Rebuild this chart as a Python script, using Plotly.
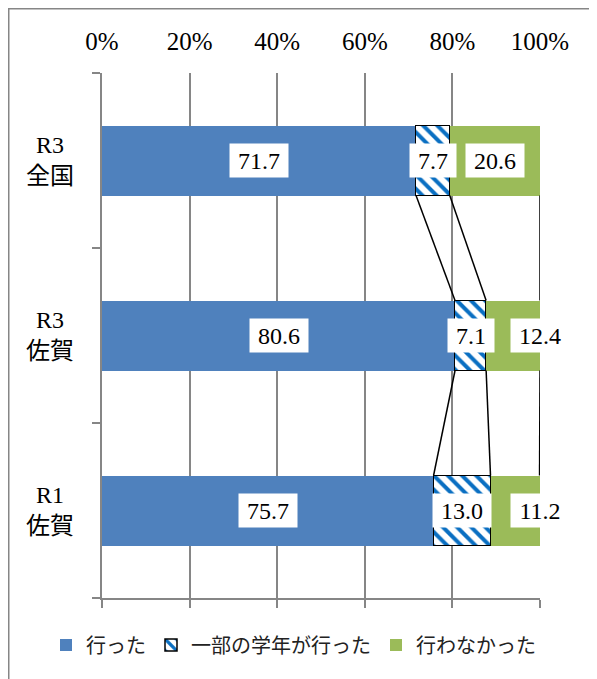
import plotly.graph_objects as go

# ---- data ----
categories = ["R1<br>佐賀", "R3<br>佐賀", "R3<br>全国"]   # bottom -> top
series_names = ["行った", "一部の学年が行った", "行わなかった"]
did = [75.7, 80.6, 71.7]
partial = [13.0, 7.1, 7.7]
did_not = [11.2, 12.4, 20.6]
x_tick_vals = [0, 20, 40, 60, 80, 100]
x_tick_text = ["0%", "20%", "40%", "60%", "80%", "100%"]
# where the value label of the last segment sits ("mid" = centre of segment, "end" = end of segment)
did_not_label_pos = ["end", "end", "mid"]

series_values = [did, partial, did_not]
y_pos = list(range(len(categories)))

BLUE = "#4F81BD"
GREEN = "#9BBB59"
STRIPE = "#0A6FC2"
GRID = "#868686"
SERIF = "Liberation Serif, Noto Sans CJK JP, serif"
JP = "Noto Sans CJK JP, sans-serif"
BAR_W = 0.4
X_MAX = 100

fig = go.Figure()

fig.add_trace(go.Bar(
    name=series_names[0], y=y_pos, x=did, orientation="h", width=BAR_W,
    marker=dict(color=BLUE, line=dict(width=0)), hoverinfo="skip"))
fig.add_trace(go.Bar(
    name=series_names[1], y=y_pos, x=partial, orientation="h", width=BAR_W,
    marker=dict(color="white", line=dict(color="black", width=1.5),
                pattern=dict(shape="\\", fgcolor=STRIPE, bgcolor="white",
                             size=10, solidity=0.4, fillmode="replace")),
    hoverinfo="skip"))
fig.add_trace(go.Bar(
    name=series_names[2], y=y_pos, x=did_not, orientation="h", width=BAR_W,
    marker=dict(color=GREEN, line=dict(width=0)), hoverinfo="skip"))

# cumulative ends of each series
cum = []
run = [0.0] * len(categories)
for vals in series_values:
    run = [r + v for r, v in zip(run, vals)]
    cum.append(list(run))

# series connector lines between adjacent bars
for s in range(len(series_values)):
    xs, ys = [], []
    for i in range(len(categories) - 1, 0, -1):
        xs += [min(cum[s][i], X_MAX), min(cum[s][i - 1], X_MAX), None]
        ys += [y_pos[i] - BAR_W / 2, y_pos[i - 1] + BAR_W / 2, None]
    fig.add_trace(go.Scatter(x=xs, y=ys, mode="lines", line=dict(color="black", width=1.5),
                             showlegend=False, hoverinfo="skip", cliponaxis=False))

# dummy trace for the top axis
fig.add_trace(go.Scatter(x=[0, X_MAX], y=[None, None], xaxis="x2", mode="markers",
                         showlegend=False, hoverinfo="skip"))

annotations = []


def label_width(txt):
    return sum(6 if c == "." else 12 for c in txt) + 14


for s, vals in enumerate(series_values):
    for i, v in enumerate(vals):
        start = cum[s][i] - v
        if s == 2 and did_not_label_pos[i] == "end":
            xc = min(cum[s][i], X_MAX)
        else:
            xc = start + v / 2
        txt = f"{v:.1f}"
        annotations.append(dict(
            x=xc, y=y_pos[i], xref="x", yref="y", text=txt, showarrow=False,
            font=dict(family=SERIF, size=24, color="black"),
            bgcolor="white", borderpad=1, width=label_width(txt), height=31,
            xanchor="center", yanchor="middle"))

W, H = 589, 671
L, T = 94, 65
pw, ph = 532 - L, 590 - T
R, B = W - L - pw, H - T - ph

for i, c in enumerate(categories):
    annotations.append(dict(
        x=(42 - L) / pw, y=y_pos[i], xref="paper", yref="y", text=c, showarrow=False,
        font=dict(family=SERIF, size=24, color="black"), align="center",
        xanchor="center", yanchor="middle"))

fig.update_layout(
    width=W, height=H,
    margin=dict(l=L, r=R, t=T, b=B),
    paper_bgcolor="white", plot_bgcolor="white",
    barmode="stack", bargap=0,
    xaxis=dict(range=[0, X_MAX], tickvals=x_tick_vals, showticklabels=False,
               showgrid=True, gridcolor=GRID, gridwidth=1.5, zeroline=False,
               showline=True, linecolor=GRID, linewidth=1.5,
               ticks="outside", ticklen=8, tickcolor=GRID, tickwidth=1.5),
    xaxis2=dict(range=[0, X_MAX], overlaying="x", side="top", tickvals=x_tick_vals,
                ticktext=x_tick_text, showgrid=False, zeroline=False, showline=False,
                ticks="", tickfont=dict(family=SERIF, size=25, color="black"),
                ticklabelstandoff=17),
    yaxis=dict(range=[-0.5, 2.5], tickvals=[-0.5, 0.5, 1.5, 2.5], showticklabels=False,
               showgrid=False, zeroline=False, showline=True, linecolor=GRID, linewidth=1.5,
               ticks="outside", ticklen=8, tickcolor=GRID, tickwidth=1.5),
    legend=dict(orientation="h", x=(38 - L) / pw, y=(T + ph - 637) / ph,
                xanchor="left", yanchor="middle", traceorder="normal",
                font=dict(family=JP, size=20, color="#222222"),
                itemwidth=30, bgcolor="rgba(0,0,0,0)"),
    annotations=annotations,
    shapes=[dict(type="rect", xref="paper", yref="paper",
                 x0=(0.75 - L) / pw, x1=(W + 10 - L) / pw,
                 y0=(T + ph - (H + 10)) / ph, y1=1 + (T - 0.75) / ph,
                 line=dict(color=GRID, width=1.5), fillcolor="rgba(0,0,0,0)", layer="below")],
    showlegend=True,
)

fig.write_html("out.html")
